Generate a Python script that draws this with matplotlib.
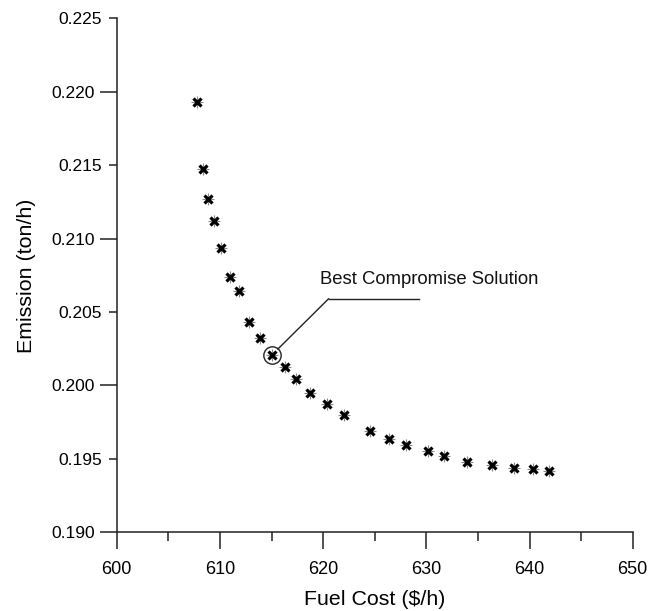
import matplotlib
matplotlib.use("Agg")
import matplotlib.pyplot as plt
from matplotlib.ticker import FixedFormatter, FixedLocator

plt.rcParams['font.family'] = ['Liberation Sans', 'DejaVu Sans']

# Pareto front: fuel cost vs emission
fuel_cost = [607.81, 608.35, 608.81, 609.39, 610.09, 610.93, 611.83, 612.80,
             613.93, 615.00, 616.26, 617.39, 618.77, 620.39, 622.03, 624.58,
             626.42, 628.03, 630.16, 631.74, 633.90, 636.41, 638.49, 640.35,
             641.90]
emission = [0.21927, 0.21475, 0.21271, 0.21123, 0.20935, 0.20738, 0.20640,
            0.20432, 0.20326, 0.20205, 0.20126, 0.20044, 0.19952, 0.19872,
            0.19800, 0.19691, 0.19632, 0.19594, 0.19555, 0.19519, 0.19480,
            0.19458, 0.19437, 0.19428, 0.19419]
best_idx = 9
best_label = "Best Compromise Solution"

x_major = [600, 610, 620, 630, 640, 650]
x_minor = [605, 615, 625, 635, 645]
y_major = [0.190, 0.200, 0.210, 0.220]
y_minor = [0.195, 0.205, 0.215, 0.225]

fig = plt.figure(figsize=(6.67, 6.11), dpi=100)
ax = fig.add_axes([0.175, 0.1288, 0.7736, 0.8412])

ax.plot(fuel_cost, emission, linestyle='none', marker='+', ms=9, mew=0.8,
        color='#888888')
ax.plot(fuel_cost, emission, linestyle='none', marker='x', ms=5.5, mew=2.3,
        color='black')

# circle the chosen point and label it
bx, by = fuel_cost[best_idx], emission[best_idx]
ax.plot([bx], [by], marker='o', ms=12.5, mfc='none', mec='#222222', mew=1.0)
ax.annotate("", xy=(bx, by), xytext=(620.54, 0.20591),
            arrowprops=dict(arrowstyle='-', color='#222222', lw=1.0,
                            shrinkA=0, shrinkB=6.3))
ax.plot([620.54, 629.25], [0.20591, 0.20591], color='#222222', lw=1.0)
ax.text(619.74, 0.2072, best_label, fontsize=13.3, va='center', ha='left',
        color='#111111')

ax.set_xlim(600, 650)
ax.set_ylim(0.190, 0.225)
ax.set_xticks(x_major)
ax.set_xticks(x_minor, minor=True)
ax.yaxis.set_major_locator(FixedLocator(y_major))
ax.yaxis.set_major_formatter(FixedFormatter(['%.3f' % v for v in y_major]))
ax.yaxis.set_minor_locator(FixedLocator(y_minor))
ax.yaxis.set_minor_formatter(FixedFormatter(['%.3f' % v for v in y_minor]))

for sp in ['top', 'right']:
    ax.spines[sp].set_visible(False)
for sp in ['left', 'bottom']:
    ax.spines[sp].set_linewidth(1.1)
    ax.spines[sp].set_color('#222222')

ax.tick_params(axis='x', which='major', direction='out', length=12.5,
               width=1.1, pad=8, labelsize=13, color='#222222')
ax.tick_params(axis='x', which='minor', direction='out', length=6.5,
               width=1.1, color='#222222')
ax.tick_params(axis='y', which='major', direction='out', length=12.5,
               width=1.1, pad=3, labelsize=12.5, color='#222222')
ax.tick_params(axis='y', which='minor', direction='out', length=6.0,
               width=1.1, pad=4.5, labelsize=12.5, color='#222222')

ax.set_xlabel("Fuel Cost ($/h)", fontsize=15.4, labelpad=9)
ax.set_ylabel("Emission (ton/h)", fontsize=15.4, labelpad=11)

fig.savefig("out.png", dpi=100)
